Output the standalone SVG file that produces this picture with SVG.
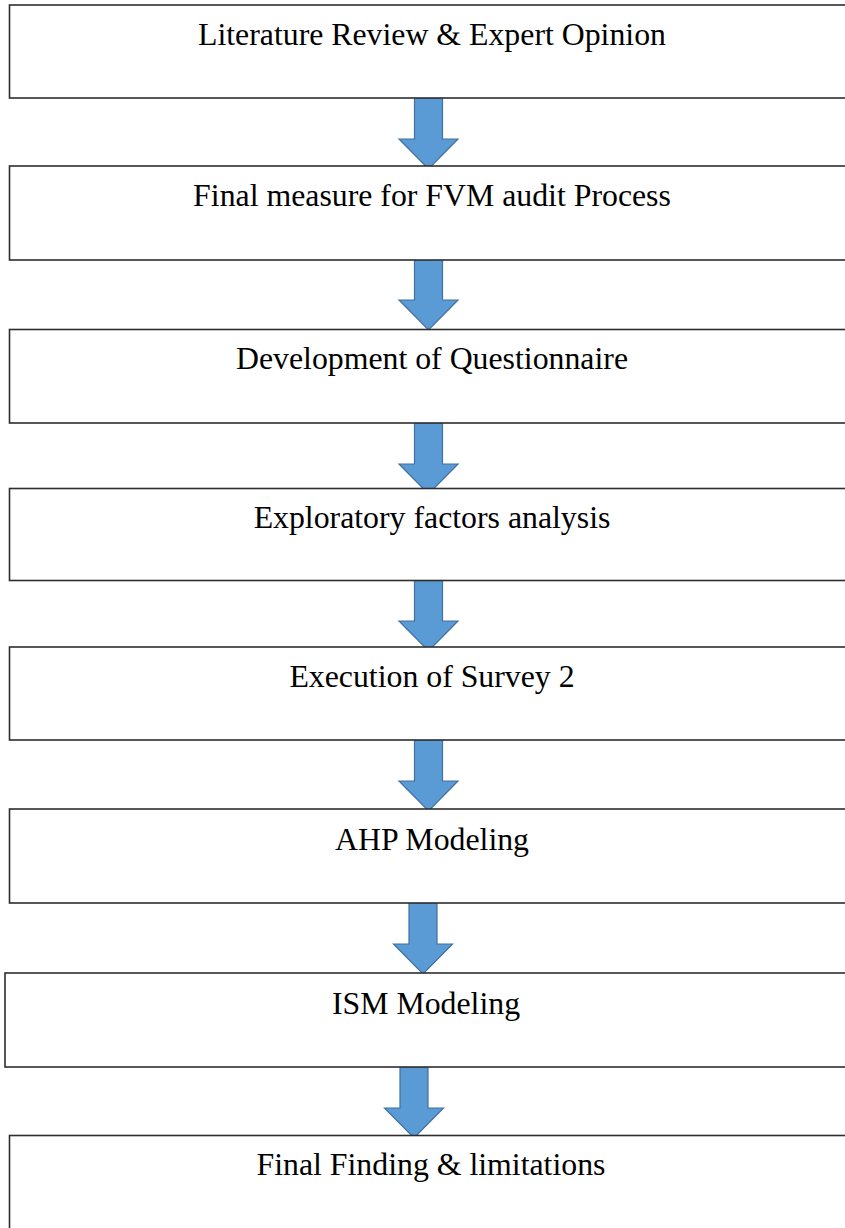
<svg xmlns="http://www.w3.org/2000/svg" width="845" height="1228" viewBox="0 0 845 1228">
  <style>
    .box { fill: #ffffff; stroke: #2e2e2e; stroke-width: 1.6; }
    .label { font-family: "Liberation Serif", "Times New Roman", serif; font-size: 31.8px; fill: #000000; text-anchor: middle; }
    .arrow { fill: #5b9bd5; stroke: #41719c; stroke-width: 1.2; stroke-linejoin: miter; }
  </style>
  <defs>
    <!-- block down-arrow, origin at the top centre of the shaft -->
    <path id="downArrow" d="M -14 0 H 14 V 41 H 29.5 L 0 71 L -29.5 41 H -14 Z"/>
  </defs>
  <rect width="845" height="1228" fill="#ffffff"/>

  <g id="connectors">
    <use href="#downArrow" class="arrow" transform="translate(428.5,98)"/>
    <use href="#downArrow" class="arrow" transform="translate(428.5,259)"/>
    <use href="#downArrow" class="arrow" transform="translate(428.5,423)"/>
    <use href="#downArrow" class="arrow" transform="translate(428.5,580)"/>
    <use href="#downArrow" class="arrow" transform="translate(428.5,740)"/>
    <use href="#downArrow" class="arrow" transform="translate(423,903)"/>
    <use href="#downArrow" class="arrow" transform="translate(414,1067)"/>
  </g>

  <g id="node-literature">
    <rect class="box" x="9.5" y="5" width="850" height="93"/>
    <text class="label" x="432" y="45">Literature Review &amp; Expert Opinion</text>
  </g>
  <g id="node-final-measure">
    <rect class="box" x="9.5" y="166" width="850" height="94"/>
    <text class="label" x="432" y="206">Final measure for FVM audit Process</text>
  </g>
  <g id="node-questionnaire">
    <rect class="box" x="9.5" y="329.5" width="850" height="93.5"/>
    <text class="label" x="432" y="368.5">Development of Questionnaire</text>
  </g>
  <g id="node-efa">
    <rect class="box" x="9.5" y="488.5" width="850" height="92"/>
    <text class="label" x="432" y="528">Exploratory factors analysis</text>
  </g>
  <g id="node-survey">
    <rect class="box" x="9.5" y="647" width="850" height="93"/>
    <text class="label" x="432" y="687">Execution of Survey 2</text>
  </g>
  <g id="node-ahp">
    <rect class="box" x="9.5" y="809" width="850" height="94"/>
    <text class="label" x="432" y="850">AHP Modeling</text>
  </g>
  <g id="node-ism">
    <rect class="box" x="5" y="973" width="850" height="94"/>
    <text class="label" x="426" y="1014">ISM Modeling</text>
  </g>
  <g id="node-findings">
    <rect class="box" x="9.5" y="1135.5" width="850" height="110"/>
    <text class="label" x="431" y="1175">Final Finding &amp; limitations</text>
  </g>
</svg>
